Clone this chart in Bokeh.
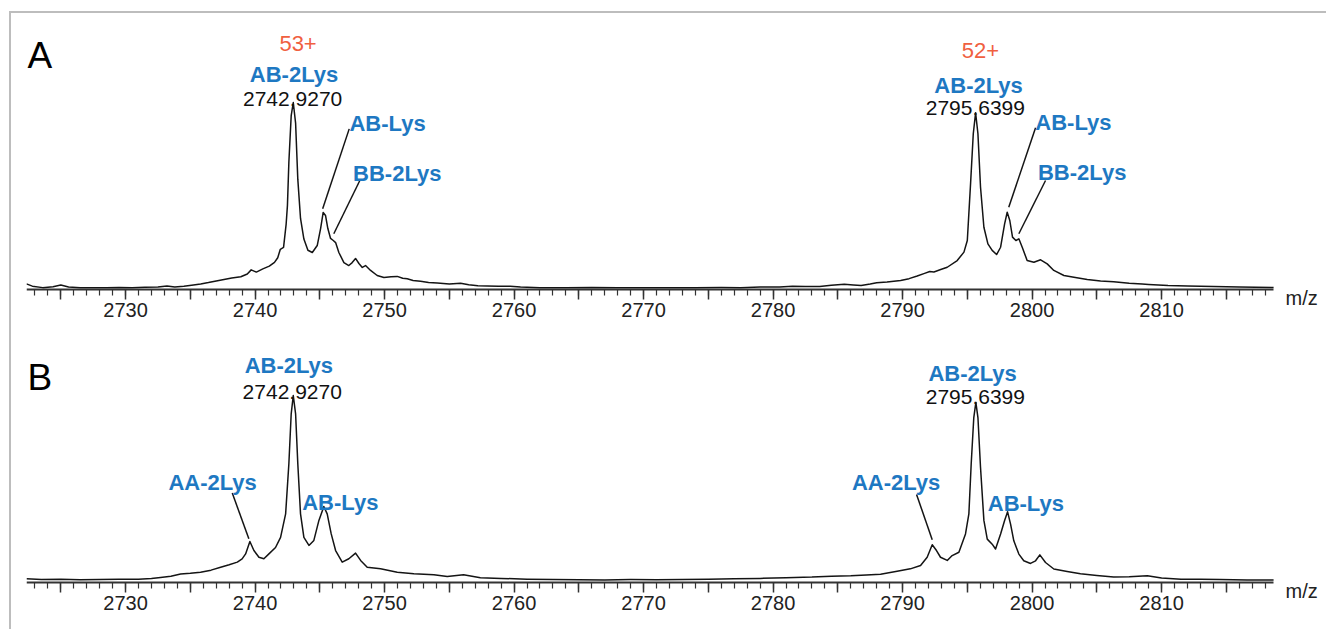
from bokeh.plotting import figure
from bokeh.models import Range1d, Label, SingleIntervalTicker, CustomJSTickFormatter
from bokeh.layouts import column
from bokeh.embed import file_html
from bokeh.resources import INLINE

# ---------------- data (relative intensity, % of base peak) ----------------
mz_a = [2722.35, 2722.8, 2723.6, 2724.4, 2725.0, 2725.6, 2726.5, 2727.5, 2728.5, 2729.5,
        2730.5, 2731.5, 2732.5, 2733.2, 2733.8, 2734.5, 2735.1, 2735.8, 2736.4, 2737.0,
        2737.6, 2738.2, 2738.9, 2739.4, 2739.7, 2740.1, 2740.6, 2741.1, 2741.5, 2741.75,
        2741.95, 2742.2, 2742.4, 2742.5, 2742.61, 2742.79, 2742.95, 2743.13, 2743.3, 2743.51,
        2743.77, 2744.08, 2744.42, 2744.8, 2745.06, 2745.26, 2745.44, 2745.62, 2745.83, 2746.04,
        2746.22, 2746.47, 2746.86, 2747.24, 2747.5, 2747.76, 2748.02, 2748.28, 2748.53, 2748.92,
        2749.43, 2749.95, 2750.5, 2750.98, 2751.4, 2751.75, 2752.2, 2752.78, 2753.4, 2754.07,
        2755.0, 2755.87, 2756.5, 2757.2, 2757.93, 2758.8, 2759.7, 2760.5, 2762.0, 2764.0,
        2766.0, 2768.0, 2770.0, 2772.0, 2774.0, 2776.0, 2777.5, 2779.0, 2780.5, 2781.5,
        2782.5, 2783.6, 2784.5, 2785.5, 2786.2, 2786.8, 2787.5, 2788.0, 2788.8, 2789.85,
        2790.5, 2791.13, 2791.7, 2792.1, 2792.42, 2793.0, 2793.45, 2794.22, 2794.74, 2795.0,
        2795.25, 2795.46, 2795.64, 2795.82, 2796.02, 2796.28, 2796.59, 2796.92, 2797.26, 2797.57,
        2797.88, 2798.08, 2798.28, 2798.49, 2798.75, 2798.98, 2799.24, 2799.62, 2800.14, 2800.66,
        2801.17, 2801.68, 2802.46, 2803.23, 2804.26, 2805.29, 2806.3, 2807.5, 2808.5, 2809.0,
        2810.5, 2812.0, 2814.0, 2816.0, 2818.65]
int_a = [3.0, 1.8, 1.0, 1.5, 2.4, 1.3, 0.9, 1.0, 0.9, 1.1,
         1.0, 1.2, 1.3, 1.9, 1.4, 1.8, 2.3, 2.9, 3.7, 4.6,
         5.4, 6.2, 6.8, 8.3, 10.5, 9.3, 11.0, 12.5, 14.5, 17.0,
         21.5, 22.5, 35.0, 45.0, 68.0, 93.0, 100.0, 89.0, 59.0, 38.0,
         27.0, 21.0, 19.8, 23.5, 32.6, 41.2, 39.6, 32.6, 27.3, 26.2,
         25.1, 19.8, 14.4, 12.8, 14.4, 16.6, 13.9, 11.8, 12.8, 10.2,
         7.5, 6.4, 6.8, 7.0, 6.0, 5.7, 4.8, 4.4, 3.8, 3.5,
         3.0, 3.4, 2.6, 2.0, 1.9, 1.7, 1.8, 1.4, 1.0, 0.9,
         1.1, 0.9, 1.0, 0.9, 1.0, 1.1, 1.0, 1.3, 1.4, 1.8,
         1.6, 1.6, 2.3, 2.8, 2.4, 2.1, 2.9, 3.6, 4.0, 4.8,
         5.8, 7.2, 8.6, 9.6, 9.4, 10.8, 11.9, 15.5, 20.0, 26.2,
         56.5, 83.3, 94.5, 83.3, 54.7, 33.3, 24.4, 20.9, 18.7, 22.6,
         35.1, 41.3, 36.9, 28.0, 26.2, 27.1, 22.6, 15.5, 14.6, 15.9,
         13.7, 10.2, 7.5, 6.6, 5.3, 4.5, 4.2, 3.4, 2.9, 2.7,
         2.1, 1.9, 1.6, 1.3, 1.1]

mz_b = [2722.35, 2723.5, 2725.0, 2726.5, 2728.0, 2729.5, 2731.0, 2732.0, 2732.7, 2733.5,
        2734.25, 2735.0, 2735.79, 2736.6, 2737.34, 2738.0, 2738.63, 2739.0, 2739.27, 2739.6,
        2739.91, 2740.3, 2740.68, 2741.07, 2741.58, 2741.97, 2742.36, 2742.61, 2742.79, 2742.95,
        2743.13, 2743.3, 2743.51, 2743.77, 2744.16, 2744.54, 2744.93, 2745.31, 2745.57, 2745.88,
        2746.22, 2746.73, 2747.24, 2747.76, 2748.15, 2748.66, 2749.69, 2750.98, 2752.26, 2753.81,
        2754.84, 2756.1, 2757.4, 2759.0, 2761.0, 2763.0, 2765.0, 2767.0, 2769.0, 2771.0,
        2773.0, 2775.0, 2777.0, 2779.0, 2781.0, 2783.0, 2784.5, 2786.0, 2787.2, 2788.3,
        2789.58, 2790.6, 2791.39, 2791.9, 2792.29, 2792.62, 2792.93, 2793.45, 2793.83, 2794.35,
        2794.86, 2795.12, 2795.3, 2795.5, 2795.66, 2795.82, 2796.02, 2796.28, 2796.54, 2796.92,
        2797.18, 2797.57, 2797.88, 2798.11, 2798.34, 2798.59, 2798.98, 2799.36, 2799.88, 2800.27,
        2800.6, 2801.04, 2801.68, 2802.71, 2803.74, 2805.0, 2806.3, 2807.5, 2808.9, 2810.0,
        2811.5, 2813.0, 2814.5, 2816.6, 2818.65]
int_b = [2.0, 1.6, 1.7, 1.5, 1.6, 1.7, 1.8, 2.1, 2.7, 3.4,
         4.5, 4.9, 5.5, 6.6, 8.2, 9.5, 10.9, 12.6, 15.3, 21.9,
         17.1, 13.5, 12.7, 15.3, 18.7, 24.1, 36.7, 63.5, 90.2, 100.0,
         90.2, 63.5, 36.7, 24.1, 19.8, 22.5, 33.2, 40.6, 36.7, 26.0,
         17.1, 10.9, 12.7, 15.7, 11.8, 8.2, 7.3, 5.5, 4.7, 4.1,
         3.2, 4.1, 2.5, 2.2, 1.8, 1.6, 1.5, 1.4, 1.6, 1.5,
         1.6, 1.8, 2.0, 2.2, 2.6, 2.9, 3.4, 3.6, 4.0, 4.4,
         6.0, 7.3, 9.1, 13.5, 20.2, 17.1, 13.5, 11.8, 14.4, 16.2,
         26.0, 36.7, 63.5, 88.2, 96.3, 88.2, 61.5, 33.2, 23.2, 20.5,
         17.9, 25.9, 33.2, 37.8, 31.2, 22.3, 15.2, 11.6, 10.2, 11.6,
         14.8, 10.7, 7.2, 5.9, 4.7, 3.8, 3.0, 3.1, 3.6, 2.4,
         1.8, 1.7, 1.6, 1.3, 1.3]

panel_letters = ["A", "B"]
axis_unit = "m/z"
x_min, x_max = 2722.35, 2818.65

# annotations: (text, style, x, y)
notes_a = [
    ("53+", "charge", 2743.32, 131.5),
    ("AB-2Lys", "species", 2743.01, 115.0),
    ("2742.9270", "mass", 2742.90, 102.1),
    ("AB-Lys", "species", 2750.23, 88.8),
    ("BB-2Lys", "species", 2750.98, 62.0),
    ("52+", "charge", 2796.02, 127.8),
    ("AB-2Lys", "species", 2795.87, 109.1),
    ("2795.6399", "mass", 2795.62, 96.8),
    ("AB-Lys", "species", 2803.19, 89.5),
    ("BB-2Lys", "species", 2803.87, 62.7),
]
leaders_a = [
    (2747.27, 85.9, 2745.22, 43.2),
    (2748.09, 58.3, 2746.08, 29.8),
    (2800.27, 86.5, 2798.20, 44.0),
    (2801.04, 58.3, 2798.98, 29.8),
]
notes_b = [
    ("AB-2Lys", "species", 2742.61, 116.0),
    ("2742.9270", "mass", 2742.87, 101.8),
    ("AA-2Lys", "species", 2736.72, 53.6),
    ("AB-Lys", "species", 2746.58, 42.9),
    ("AB-2Lys", "species", 2795.41, 111.6),
    ("2795.6399", "mass", 2795.62, 99.1),
    ("AA-2Lys", "species", 2789.50, 53.6),
    ("AB-Lys", "species", 2799.52, 42.1),
]
leaders_b = [
    (2738.24, 47.8, 2739.52, 23.4),
    (2791.08, 47.1, 2792.29, 22.8),
]

STYLES = {
    "charge": dict(text_color="#f0603f", text_font_size="22px", text_font_style="normal"),
    "species": dict(text_color="#1e78c2", text_font_size="22px", text_font_style="bold"),
    "mass": dict(text_color="#111111", text_font_size="21px", text_font_style="normal"),
}
FONT = "Liberation Sans"
FIG_W = 1315
LEFT = 15
PX_PER_MZ = 12.95
PX_PER_PCT = 1.87
X_VIEW_END = x_min + (FIG_W - LEFT) / PX_PER_MZ


def make_panel(letter, mz, inten, notes, leaders, height, top_px, axis_px, letter_y):
    y_end = (axis_px - top_px) / PX_PER_PCT
    y_start = -(height - axis_px) / PX_PER_PCT
    p = figure(width=FIG_W, height=height, x_range=Range1d(x_min, X_VIEW_END),
               y_range=Range1d(y_start, y_end), output_backend="svg", toolbar_location=None,
               y_axis_location=None, min_border_left=LEFT, min_border_right=0,
               min_border_top=top_px, min_border_bottom=0)
    p.grid.visible = False
    p.outline_line_color = None
    p.background_fill_color = "white"
    p.border_fill_color = "white"
    p.line(mz, inten, line_color="#141414", line_width=1.5, line_join="round")

    ax = p.xaxis[0]
    ax.fixed_location = 0
    ax.bounds = (x_min, x_max)
    ax.ticker = SingleIntervalTicker(interval=5, num_minor_ticks=5)
    ax.formatter = CustomJSTickFormatter(
        code="return (Math.round(tick) % 10 === 0) ? tick.toFixed(0) : '';")
    ax.axis_line_width = 2
    ax.axis_line_color = "#333333"
    ax.major_tick_line_width = 1.5
    ax.major_tick_line_color = "#333333"
    ax.minor_tick_line_width = 1.2
    ax.minor_tick_line_color = "#333333"
    ax.major_tick_in = 0
    ax.major_tick_out = 10
    ax.minor_tick_in = 0
    ax.minor_tick_out = 6
    ax.major_label_standoff = 3
    ax.major_label_text_font = FONT
    ax.major_label_text_font_size = "20px"
    ax.major_label_text_color = "#222222"

    for x0, y0, x1, y1 in leaders:
        p.segment(x0=[x0], y0=[y0], x1=[x1], y1=[y1], line_color="#141414", line_width=1.5)

    for text, style, x, y in notes:
        p.add_layout(Label(x=x, y=y, text=text, text_align="center",
                           text_baseline="alphabetic", text_font=FONT, **STYLES[style]))

    p.add_layout(Label(x=x_min + 0.07, y=letter_y, text=letter, text_align="left",
                       text_baseline="alphabetic", text_font=FONT,
                       text_font_size="37px", text_color="#000000"))
    p.add_layout(Label(x=2819.57, y=-4.8, text=axis_unit, text_align="left",
                       text_baseline="alphabetic", text_font=FONT,
                       text_font_size="20px", text_color="#222222"))
    return p


# panel A: figure spans page y 13..330, axis at page 289
pA = make_panel(panel_letters[0], mz_a, int_a, notes_a, leaders_a, 317, 10, 276, 125.1)
# panel B: figure spans page y 330..629, axis at page 582
pB = make_panel(panel_letters[1], mz_b, int_b, notes_b, leaders_b, 299, 10, 252, 109.8)

layout = column(pA, pB, spacing=0,
                styles={"margin-left": "9px", "margin-top": "11px",
                        "border-left": "2px solid #bdbdbd", "border-top": "2px solid #bdbdbd"})

open("out.html", "w").write(file_html(layout, INLINE))
